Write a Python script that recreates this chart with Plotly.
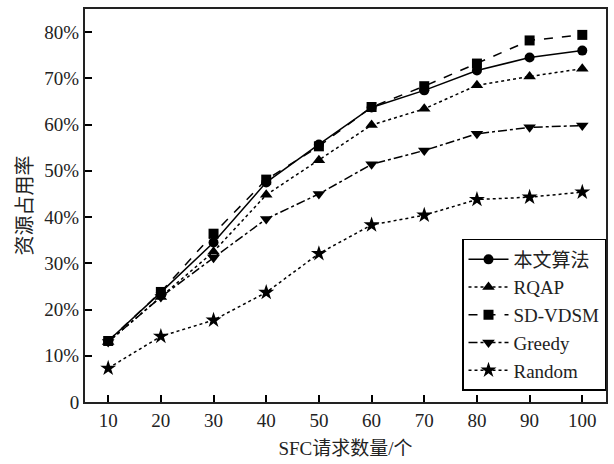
import plotly.graph_objects as go

x_vals = [10, 20, 30, 40, 50, 60, 70, 80, 90, 100]
ours = [13.2, 23.7, 34.5, 47.5, 55.7, 63.7, 67.4, 71.7, 74.5, 76.0]
rqap = [13.0, 22.7, 32.5, 44.8, 52.3, 59.9, 63.4, 68.5, 70.4, 72.1]
sdvdsm = [13.2, 23.8, 36.4, 48.1, 55.3, 63.8, 68.3, 73.2, 78.2, 79.4]
greedy = [13.0, 22.7, 31.2, 39.6, 45.0, 51.4, 54.4, 58.0, 59.4, 59.8]
random_ = [7.3, 14.2, 17.7, 23.7, 32.1, 38.3, 40.4, 43.8, 44.3, 45.4]

names = ["本文算法", "RQAP", "SD-VDSM", "Greedy", "Random"]
series = [ours, rqap, sdvdsm, greedy, random_]
dashes = ["solid", "dot", "dash", "dashdot", "dot"]
symbols = ["circle", "triangle-up", "square", "triangle-down", "star"]
sizes = [10, 11, 10, 11, 12]

ytick_vals = [0, 10, 20, 30, 40, 50, 60, 70, 80]
ytick_text = ["0", "10%", "20%", "30%", "40%", "50%", "60%", "70%", "80%"]

fig = go.Figure()
for name, ys, d, s, sz in zip(names, series, dashes, symbols, sizes):
    fig.add_trace(go.Scatter(
        x=x_vals, y=ys, name=name, mode="lines+markers",
        line=dict(color="black", width=1.5, dash=d),
        marker=dict(symbol=s, size=sz, color="black"),
    ))

font_fam = "Liberation Serif, Noto Sans CJK SC, serif"
fig.update_layout(
    width=614, height=464,
    margin=dict(l=85, r=6, t=9, b=62),
    paper_bgcolor="white", plot_bgcolor="white",
    font=dict(family=font_fam, size=19, color="#222"),
    showlegend=True,
    legend=dict(x=1, y=0.028, xanchor="right", yanchor="bottom",
                bordercolor="black", borderwidth=1.5, bgcolor="white",
                font=dict(size=19, family=font_fam, color="#222"),
                tracegroupgap=0, itemwidth=40),
)
fig.update_xaxes(
    range=[5.6, 104.5], tickvals=x_vals, ticks="inside", ticklen=7,
    tickwidth=1.5, tickcolor="black", showline=True, linecolor="#222",
    linewidth=2, mirror=True, showgrid=False, zeroline=False,
    tickfont=dict(size=19),
    title=dict(text="SFC请求数量/个", font=dict(size=19), standoff=12),
)
fig.update_yaxes(
    range=[0, 85], tickvals=ytick_vals, ticktext=ytick_text, ticks="inside",
    ticklen=7, tickwidth=1.5, tickcolor="black", showline=True,
    linecolor="#222", linewidth=2, mirror=True, showgrid=False, zeroline=False,
    tickfont=dict(size=19),
    title=dict(text="资源占用率", font=dict(size=20), standoff=6),
)
fig.write_html("out.html")
